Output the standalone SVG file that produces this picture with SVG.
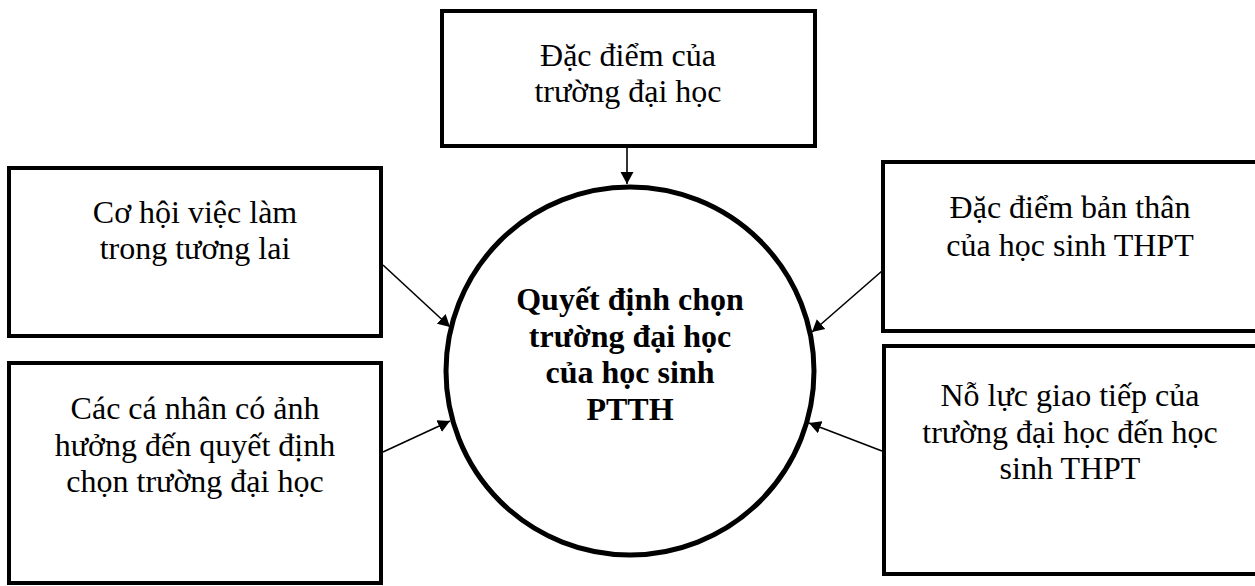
<svg xmlns="http://www.w3.org/2000/svg" width="1255" height="586" viewBox="0 0 1255 586">
  <style>
    .box { fill: #fff; stroke: #000; stroke-width: 4; }
    .circ { fill: #fff; stroke: #000; stroke-width: 5; }
    .t { font-size: 32px; fill: #000; text-anchor: middle; }
    .b { font-weight: bold; }
    .conn { stroke: #000; stroke-width: 1.6; fill: none; marker-end: url(#arr); }
  </style>
  <defs>
    <marker id="arr" markerUnits="userSpaceOnUse" markerWidth="14" markerHeight="14" viewBox="0 0 14 14" refX="12" refY="7" orient="auto">
      <path d="M0,0.5 L12,7 L0,13.5 Z" fill="#000"/>
    </marker>
  </defs>
  <rect width="1255" height="586" fill="#fff"/>

  <g id="center" font-family="Liberation Serif, DejaVu Serif, serif">
    <circle class="circ" cx="630" cy="371" r="184"/>
    <text class="t b" x="630" y="310">Quyết định chọn</text>
    <text class="t b" x="630" y="347">trường đại học</text>
    <text class="t b" x="630" y="383">của học sinh</text>
    <text class="t b" x="630" y="420">PTTH</text>
  </g>

  <g id="top" font-family="Liberation Serif, DejaVu Serif, serif">
    <rect class="box" x="442" y="11" width="373" height="135"/>
    <text class="t" x="628" y="66">Đặc điểm của</text>
    <text class="t" x="628" y="102">trường đại học</text>
  </g>

  <g id="left-top" font-family="Liberation Serif, DejaVu Serif, serif">
    <rect class="box" x="9" y="168" width="372" height="168"/>
    <text class="t" x="195" y="223">Cơ hội việc làm</text>
    <text class="t" x="195" y="259">trong tương lai</text>
  </g>

  <g id="left-bottom" font-family="Liberation Serif, DejaVu Serif, serif">
    <rect class="box" x="9" y="363" width="372" height="220"/>
    <text class="t" x="195" y="419">Các cá nhân có ảnh</text>
    <text class="t" x="195" y="456">hưởng đến quyết định</text>
    <text class="t" x="195" y="492">chọn trường đại học</text>
  </g>

  <g id="right-top" font-family="Liberation Serif, DejaVu Serif, serif">
    <rect class="box" x="883" y="162" width="374" height="169"/>
    <text class="t" x="1070" y="218">Đặc điểm bản thân</text>
    <text class="t" x="1070" y="256">của học sinh THPT</text>
  </g>

  <g id="right-bottom" font-family="Liberation Serif, DejaVu Serif, serif">
    <rect class="box" x="884" y="346" width="373" height="228"/>
    <text class="t" x="1070" y="406">Nỗ lực giao tiếp của</text>
    <text class="t" x="1070" y="443">trường đại học đến học</text>
    <text class="t" x="1070" y="479">sinh THPT</text>
  </g>

  <g id="connectors">
    <line class="conn" x1="627" y1="148" x2="627" y2="184"/>
    <line class="conn" x1="383" y1="265" x2="450" y2="327"/>
    <line class="conn" x1="383" y1="452" x2="450" y2="421"/>
    <line class="conn" x1="882" y1="271" x2="812" y2="332"/>
    <line class="conn" x1="882" y1="451" x2="809" y2="423"/>
  </g>
</svg>
